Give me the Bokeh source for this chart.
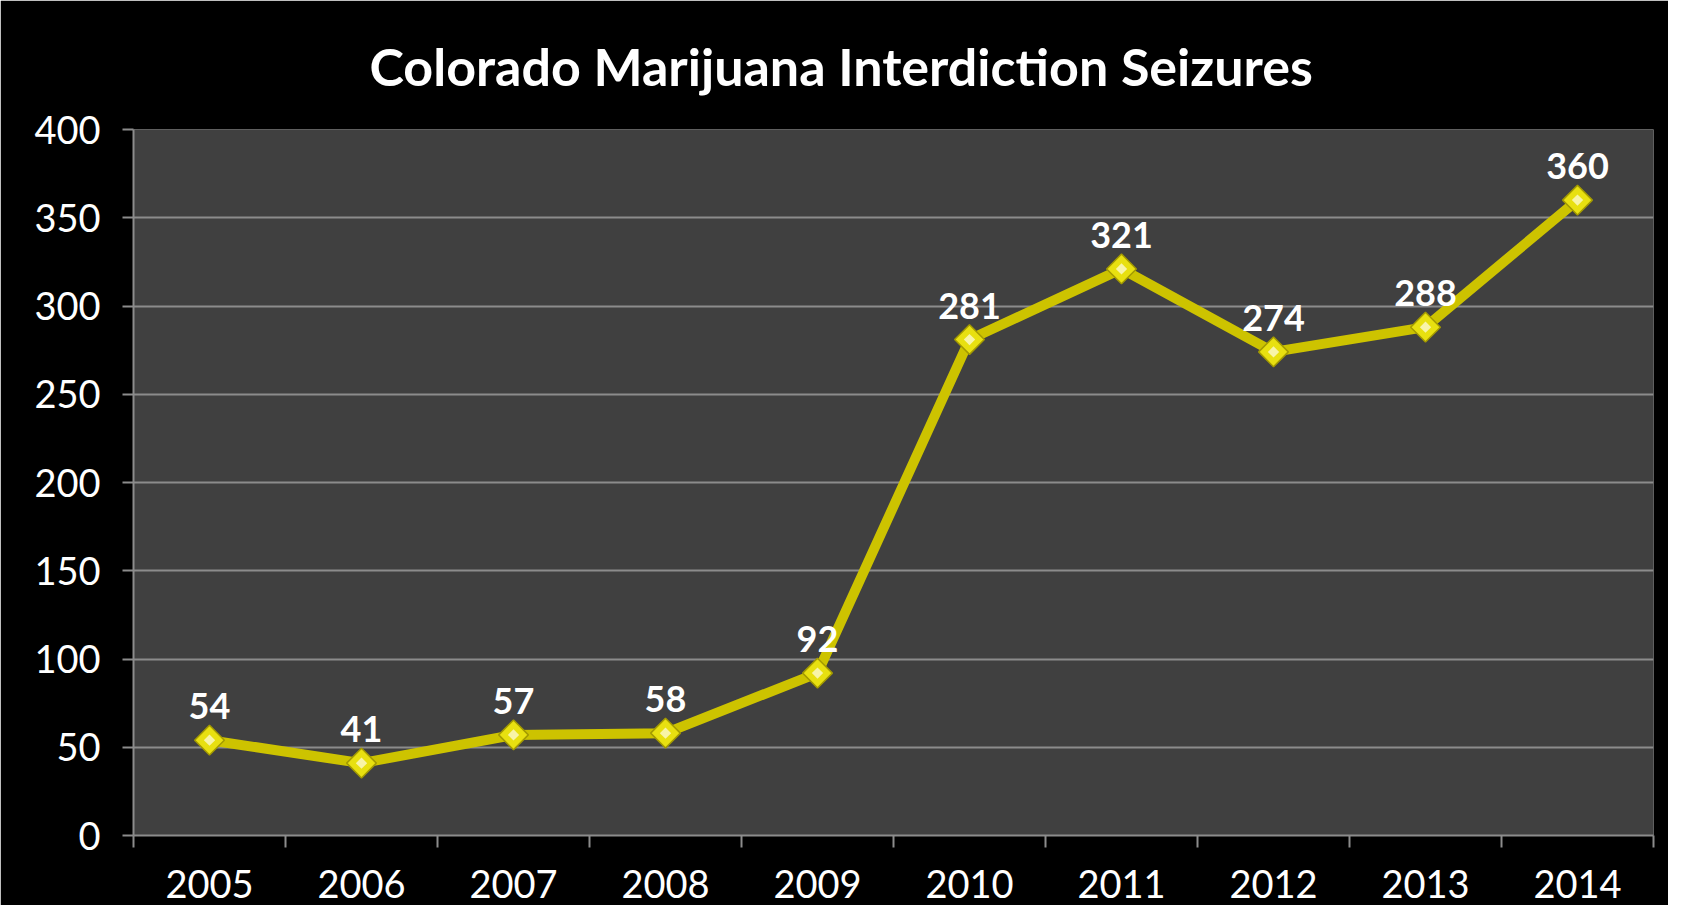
from bokeh.plotting import figure
from bokeh.models import FixedTicker, Title, ColumnDataSource, Range1d
from bokeh.core.properties import value
from bokeh.embed import file_html
from bokeh.resources import INLINE
import math

years = [2005, 2006, 2007, 2008, 2009, 2010, 2011, 2012, 2013, 2014]
seizures = [54, 41, 57, 58, 92, 281, 321, 274, 288, 360]
y_ticks = [0, 50, 100, 150, 200, 250, 300, 350, 400]
title_text = "Colorado Marijuana Interdiction Seizures"

FONT = "Lato"
GRAY = "#8c8c8c"

src = ColumnDataSource(dict(x=years, y=seizures, lbl=[str(v) for v in seizures]))

p = figure(width=1668, height=905, output_backend="svg", toolbar_location=None,
           x_range=Range1d(years[0] - 0.5, years[-1] + 0.5),
           y_range=Range1d(y_ticks[0], y_ticks[-1]),
           min_border_left=133, min_border_right=15, min_border_top=129, min_border_bottom=70,
           background_fill_color="#404040", border_fill_color="black",
           outline_line_color=None)

t = Title(text=title_text, align="left", vertical_align="top", text_color="white",
          text_font=FONT, text_font_size="52px", text_font_style="bold",
          offset=236, standoff=62)
p.add_layout(t, "above")

# x axis: labels at year centers, ticks at category boundaries
p.xaxis.ticker = FixedTicker(ticks=years,
                             minor_ticks=[years[0] - 0.5 + i for i in range(len(years) + 1)])
p.xaxis.major_label_overrides = {y: str(y) for y in years}
p.xaxis.major_tick_out = 0
p.xaxis.major_tick_in = 0
p.xaxis.minor_tick_out = 12
p.xaxis.minor_tick_in = 0
p.xaxis.minor_tick_line_color = GRAY
p.xaxis.minor_tick_line_width = 2
p.xaxis.axis_line_color = GRAY
p.xaxis.axis_line_width = 2
p.xaxis.major_label_standoff = 22
p.xaxis.major_label_text_font = FONT
p.xaxis.major_label_text_font_size = "38px"
p.xaxis.major_label_text_color = "white"

p.yaxis.ticker = FixedTicker(ticks=y_ticks)
p.yaxis.major_tick_out = 11
p.yaxis.major_tick_in = 0
p.yaxis.major_tick_line_color = GRAY
p.yaxis.major_tick_line_width = 2
p.yaxis.minor_tick_line_color = None
p.yaxis.axis_line_color = GRAY
p.yaxis.axis_line_width = 2
p.yaxis.major_label_standoff = 22
p.yaxis.major_label_text_font = FONT
p.yaxis.major_label_text_font_size = "38px"
p.yaxis.major_label_text_color = "white"

p.xgrid.grid_line_color = None
p.ygrid.grid_line_color = GRAY
p.ygrid.grid_line_width = 2

p.line("x", "y", source=src, line_color="#cdc300", line_width=10)
p.scatter("x", "y", source=src, marker="square", size=21, angle=math.pi / 4,
          fill_color="#e8e010", line_color="#a39a00", line_width=1.5)
p.scatter("x", "y", source=src, marker="square", size=8, angle=math.pi / 4,
          fill_color="#f8f4a8", line_color=None)

p.text("x", "y", text="lbl", source=src, text_color="white", text_font=value(FONT),
       text_font_size="36px", text_font_style="bold", text_align="center",
       text_baseline="bottom", y_offset=-21)

open("out.html", "w").write(file_html(p, INLINE))
